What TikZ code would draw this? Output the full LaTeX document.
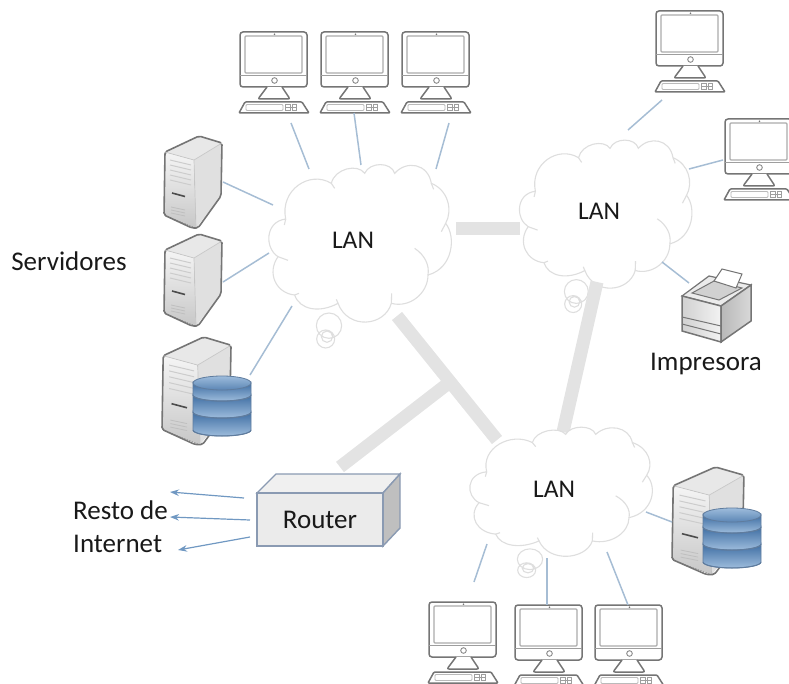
\documentclass[tikz,border=0pt]{standalone}
\usepackage{fontspec}
\setmainfont{Carlito}
\usetikzlibrary{arrows.meta}
\definecolor{cloudline}{HTML}{DEDEDE}
\definecolor{backbone}{HTML}{E3E3E3}
\definecolor{linkblue}{HTML}{A6BDD4}
\definecolor{arrowblue}{HTML}{7098C2}
\definecolor{pcline}{HTML}{757575}
\definecolor{boxline}{HTML}{8A9AB2}
\definecolor{dbline}{HTML}{5F7C9E}
\definecolor{dbdark}{HTML}{3F6EA3}
\definecolor{dblight}{HTML}{9DBCDC}
\tikzset{
    pics/lan cloud/.style={code={
        \draw[cloudline,line width=1.1pt,scale=.3333,shift={(-280,-300)}] (208,557) circle (38) (198,597) circle (27) (202,590) circle (17);
        \draw[cloudline,line width=1.1pt,fill=white,scale=.3333,shift={(-280,-300)}]
            (78,237) .. controls (60,150) and (150,90) .. (215,130)
            .. controls (225,85) and (295,70) .. (315,100)
            .. controls (330,65) and (395,65) .. (405,100)
            .. controls (440,60) and (505,70) .. (515,130)
            .. controls (565,150) and (580,210) .. (558,250)
            .. controls (590,290) and (580,385) .. (505,405)
            .. controls (505,460) and (450,505) .. (395,490)
            .. controls (375,560) and (265,570) .. (235,490)
            .. controls (180,520) and (120,510) .. (105,465)
            .. controls (50,460) and (20,400) .. (55,350)
            .. controls (15,325) and (15,245) .. (78,237) -- cycle;
        \draw[cloudline,line width=1.1pt,scale=.3333,shift={(-280,-300)}]
            (215,130) -- (225,145) (515,130) -- (522,148) (558,250) -- (545,275)
            (465,325) .. controls (495,345) and (510,375) .. (505,405)
            (395,490) -- (396,460) (235,490) -- (230,478) (105,465) -- (118,460)
            (55,350) -- (85,361) (78,237) -- (74,255);
    }},
    pics/computer/.style={code={
        \draw[pcline,line width=1.5pt,fill=white,rounded corners=3pt] (0,0) rectangle (67,55);
        \draw[pcline!60,line width=1.3pt,rounded corners=1pt] (5,4) rectangle (62,41);
        \draw[pcline!70,line width=.8pt] (0,43) -- (67,43);
        \fill[pcline] (34.5,2.2) circle (.9);
        \draw[pcline!85,line width=.9pt] (34.5,48.5) circle (2.8);
        \draw[pcline,line width=1.5pt,rounded corners=2pt,fill=white] (27,55) -- (18,67) -- (50,67) -- (42,55);
        \draw[pcline,line width=1.5pt,rounded corners=1pt,fill=white] (-1,81) -- (5,70) -- (62,70) -- (69,81) -- cycle;
        \draw[pcline!50,line width=.8pt,rounded corners=1pt] (6,72.5) rectangle (43,78.5);
        \draw[pcline!70,line width=.8pt] (45,72.5) rectangle (50,78.5) (52,72.5) rectangle (56,78.5) (45,75.5) -- (56,75.5);
    }},
    pics/server/.style={code={
        \fill[top color=black!4,bottom color=black!22] (1,16) -- (30,24) -- (32,92) -- (0,79) -- cycle;
        \fill[black!12] (30,24) -- (58,7) -- (57,60) -- (32,92) -- cycle;
        \fill[black!9] (1,16) -- (35,0) -- (58,7) -- (30,24) -- cycle;
        \foreach \ly in {28,33,38,43,48}
            \draw[black!20,line width=1pt] (6,\ly-4) -- (27,\ly+1);
        \draw[black!70,line width=1.6pt] (8,57) -- (21,60.5);
        \foreach \ly in {71,74,77}
            \draw[black!25,line width=.8pt] (7,\ly) -- (21,\ly+3);
        \draw[pcline,line width=1.6pt,rounded corners=2pt] (1,16) -- (35,0) -- (58,7) -- (57,60) -- (34,92) -- (28,92) -- (0,79) -- cycle;
        \draw[black!22,line width=.7pt] (1,16) -- (30,24) -- (58,7) (30,24) -- (32,91);
    }},
    pics/database/.style={code={
        \foreach \ya/\yb in {36/54,19/36,7/19} {
            \draw[dbline,line width=.8pt,top color=dbdark,bottom color=dblight]
                (0,\ya) arc (180:0:29 and 6) -- (58,\yb) arc (0:180:29 and 6) -- cycle;
            \draw[dbline,line width=1pt] (0,\yb) arc (180:0:29 and 6);
        }
        \draw[dbline,line width=.8pt,top color=dblight,bottom color=dbdark!70!dblight] (29,7) ellipse (29 and 7);
    }},
    pics/printer/.style={code={
        \draw[pcline,line width=1.2pt,fill=black!8] (0,27) -- (27,7) -- (69,16) -- (39,37) -- cycle;
        \draw[pcline,line width=1pt,fill=black!18] (10,24) -- (32,12) -- (60,19) -- (37,31) -- cycle;
        \draw[pcline,line width=1pt,fill=white] (32,12) -- (40,0) -- (60,5) -- (54,19) -- cycle;
        \draw[pcline,line width=1.5pt,left color=black!18,right color=black!5] (0,27) -- (39,37) -- (39,73) -- (0,62) -- cycle;
        \draw[pcline,line width=1.5pt,left color=black!28,right color=black!15] (39,37) -- (69,16) -- (69,52) -- (39,73) -- cycle;
        \draw[pcline,line width=1pt] (0,48) -- (39,57) (0,55) -- (39,65);
    }},
    lan text/.style={font=\fontsize{25.5}{30}\selectfont,text=black!90},
    side text/.style={font=\fontsize{27}{32}\selectfont,text=black!90},
    cloud link/.style={linkblue,line width=1.5pt},
    backbone link/.style={backbone,line width=13pt},
    router arrow/.style={-{Stealth[length=9pt,width=6.5pt]},arrowblue,line width=1.2pt},
    router box/.style={draw=boxline,line width=1.4pt,fill=black!8,minimum width=126pt,minimum height=53pt,font=\fontsize{27}{32}\selectfont,text=black!90,inner sep=0pt},
}
\begin{document}
\begin{tikzpicture}[x=1pt,y=-1pt]
    \path[use as bounding box,clip] (0,0) rectangle (789,684);
    % ends of the links
    \foreach \name/\px/\py in {a1/291/123,a2/309/169,b1/354/113,b2/361/165,c1/449/123,c2/436/169,
        d1/223/182,d2/273/205,e1/223/282,e2/269/253,f1/250/375,f2/292/306,
        g1/662/100,g2/628/130,h1/723/160,h2/689/169,i1/662/262,i2/689/283,
        j1/646/512,j2/672/522,k1/487/544,k2/474/582,l1/547/558,l2/547/605,m1/607/552,m2/628/605,
        n1/456/229,n2/520/229,o1/597/282,o2/563/432,p1/397/316,p2/497/440,q1/340/467,q2/450/382,
        r1/244/498,r2/170/492,s1/250/520,s2/170/517,t1/250/537,t2/178/550}
        \coordinate (\name) at (\px,\py);

    \pic (cloud1) at (353,240) {lan cloud};
    \pic[xscale=.945,yscale=.94] (cloud2) at (599,211) {lan cloud};
    \path[backbone link]
        (n1) edge (n2)
        (o1) edge (o2)
        (p1) edge (p2)
        (q1) edge (q2)
        ;
    \pic[yscale=.82] (cloud3) at (554,489) {lan cloud};

    \node[lan text] (lan1) at (353,240) {LAN};
    \node[lan text] (lan2) at (599,211) {LAN};
    \node[lan text] (lan3) at (554,489) {LAN};

    \pic (pc1) at (240,32) {computer};
    \pic (pc2) at (321,32) {computer};
    \pic (pc3) at (402,32) {computer};
    \pic (pc4) at (656,11) {computer};
    \pic (pc5) at (725,119) {computer};
    \pic (pc6) at (429,602) {computer};
    \pic (pc7) at (515,605) {computer};
    \pic (pc8) at (595,605) {computer};

    \pic (server1) at (164,136) {server};
    \pic (server2) at (164,234) {server};
    \pic[xscale=1.19,yscale=1.17] (server3) at (162,337) {server};
    \pic[xscale=1.24,yscale=1.17] (server4) at (672,467) {server};
    \pic (db1) at (193,376) {database};
    \pic (db2) at (703,508) {database};
    \pic (printer1) at (682,269) {printer};

    \path[cloud link]
        (a1) edge (a2)
        (b1) edge (b2)
        (c1) edge (c2)
        (d1) edge (d2)
        (e1) edge (e2)
        (f1) edge (f2)
        (g1) edge (g2)
        (h1) edge (h2)
        (i1) edge (i2)
        (j1) edge (j2)
        (k1) edge (k2)
        (l1) edge (l2)
        (m1) edge (m2)
        ;

    \fill[black!6,draw=boxline,line width=1.4pt] (257,493) -- (276,474) -- (400,474) -- (383,493) -- cycle;
    \fill[black!25,draw=boxline,line width=1.4pt] (383,493) -- (400,474) -- (400,528) -- (383,546) -- cycle;
    \node[router box] (router) at (320,519.5) {Router};
    \path[router arrow]
        (r1) edge (r2)
        (s1) edge (s2)
        (t1) edge (t2)
        ;

    \node[side text] (servidores) at (69,261) {Servidores};
    \node[side text] (impresora) at (706,364) {Impresora};
    \node[side text,anchor=base west,inner sep=0pt] (resto) at (73,519) {Resto de};
    \node[side text,anchor=base west,inner sep=0pt] (internet) at (73,552) {Internet};
\end{tikzpicture}
\end{document}
